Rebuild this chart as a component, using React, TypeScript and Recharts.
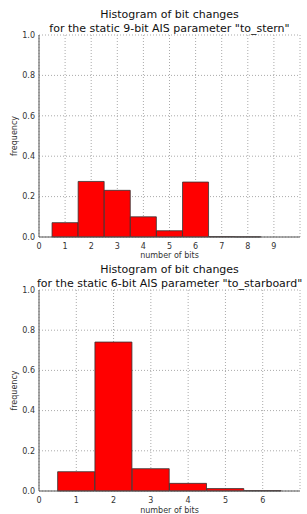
import {
  ComposedChart,
  Bar,
  XAxis,
  YAxis,
  CartesianGrid,
} from "recharts";

const sternBits = [1, 2, 3, 4, 5, 6, 7, 8, 9];
const sternFreq = [0.071, 0.275, 0.231, 0.1, 0.031, 0.272, 0.002, 0.001, 0];
const sternTicks = [0, 1, 2, 3, 4, 5, 6, 7, 8, 9];

const starBits = [1, 2, 3, 4, 5, 6];
const starFreq = [0.096, 0.741, 0.111, 0.038, 0.012, 0.002];
const starTicks = [0, 1, 2, 3, 4, 5, 6];

const yTicks = [0, 0.2, 0.4, 0.6, 0.8, 1.0];

const font = "'DejaVu Sans', sans-serif";
const tickStyle = { fontSize: 8, fill: "#333", fontFamily: font };

// rotated y label, placed by hand since insideLeft offset didn't move it
const FreqLabel = ({ viewBox }: any) => {
  const cy = viewBox.y + viewBox.height / 2;
  return (
    <text
      x={17}
      y={cy}
      transform={`rotate(-90, 17, ${cy})`}
      textAnchor="middle"
      fontSize={8}
      fill="#333"
      fontFamily={font}
    >
      frequency
    </text>
  );
};

interface HistProps {
  bits: number[];
  freq: number[];
  ticks: number[];
  xMax: number;
  height: number;
  axisHeight: number;
  labelOffset: number;
}

const Hist = ({ bits, freq, ticks, xMax, height, axisHeight, labelOffset }: HistProps) => {
  const data = bits.map((b, i) => ({ bits: b, freq: freq[i] }));
  return (
    <ComposedChart
      width={307}
      height={height}
      data={data}
      barCategoryGap={0}
      barGap={0}
      margin={{ top: 35, right: 7, bottom: 0, left: 0 }}
    >
      <CartesianGrid strokeDasharray="1 2" stroke="#aaa" />
      <XAxis
        dataKey="bits"
        type="number"
        domain={[0, xMax]}
        ticks={ticks}
        height={axisHeight}
        tickLine={false}
        tickSize={4}
        tick={tickStyle}
        stroke="#555"
        label={{
          value: "number of bits",
          position: "insideBottom",
          offset: labelOffset,
          style: { fontSize: 8, fill: "#333", fontFamily: font },
        }}
      />
      <XAxis xAxisId="top" orientation="top" type="number" domain={[0, xMax]} height={0} tick={false} tickLine={false} stroke="#777" />
      <YAxis
        domain={[0, 1]}
        ticks={yTicks}
        width={39}
        tickLine={false}
        tickSize={2}
        tick={tickStyle}
        stroke="#555"
        tickFormatter={(v: number) => v.toFixed(1)}
        label={{ content: FreqLabel }}
      />
      <YAxis yAxisId="right" orientation="right" domain={[0, 1]} width={0} tick={false} tickLine={false} stroke="#777" />
      <Bar
        dataKey="freq"
        fill="#ff0000"
        stroke="#333"
        strokeWidth={0.8}
        isAnimationActive={false}
      />
    </ComposedChart>
  );
};

const titleStyle = {
  position: "absolute" as const,
  fontFamily: font,
  fontSize: 11,
  lineHeight: "14px",
  color: "#111",
  whiteSpace: "nowrap" as const,
};

const App = () => (
  <div style={{ position: "absolute", left: 0, top: 0, width: 307, height: 514, overflow: "hidden", background: "#fff" }}>
    <div style={{ position: "absolute", left: 0, top: 0 }}>
      <Hist bits={sternBits} freq={sternFreq} ticks={sternTicks} xMax={10} height={262} axisHeight={25} labelOffset={4} />
    </div>
    <div style={{ position: "absolute", left: 0, top: 255 }}>
      <Hist bits={starBits} freq={starFreq} ticks={starTicks} xMax={7} height={259} axisHeight={23} labelOffset={1} />
    </div>
    <div style={{ ...titleStyle, left: 0, width: 339, top: 8, textAlign: "center" }}>Histogram of bit changes</div>
    <div style={{ ...titleStyle, left: 0, width: 339, top: 22, textAlign: "center" }}>
      for the static 9-bit AIS parameter "to_stern"
    </div>
    <div style={{ ...titleStyle, left: 0, width: 339, top: 263, textAlign: "center" }}>Histogram of bit changes</div>
    <div style={{ ...titleStyle, left: 37, top: 277 }}>
      for the static 6-bit AIS parameter "to_starboard"
    </div>
  </div>
);

export default App;
